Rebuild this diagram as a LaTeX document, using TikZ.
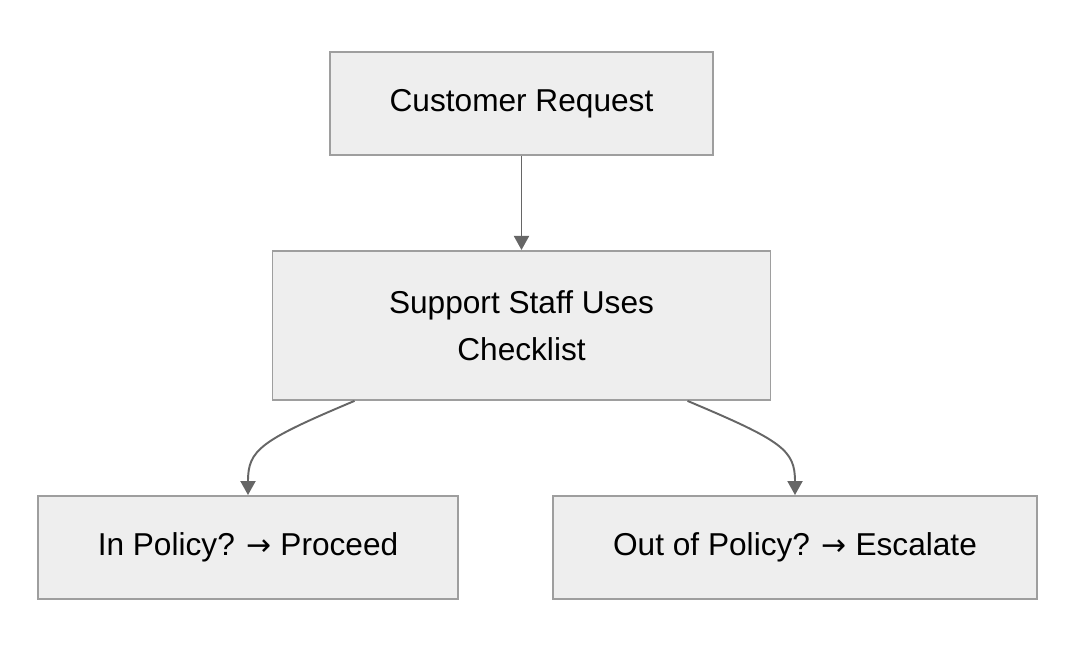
\documentclass[tikz,border=0pt]{standalone}
\usepackage{fontspec}
\setmainfont{Liberation Sans}
\newfontfamily\arrowfont{DejaVu Sans}
\usetikzlibrary{positioning,arrows.meta}

\definecolor{boxfill}{HTML}{EEEEEE}
\definecolor{boxline}{HTML}{9E9E9E}
\definecolor{linkgray}{HTML}{666666}
\newcommand{\goesto}{{\arrowfont\fontsize{17}{17}\selectfont →}}

\begin{document}
\begin{tikzpicture}[
  stepbox/.style={rectangle, draw=boxline, fill=boxfill, line width=1.1pt, align=center, minimum height=2.06cm,
    font=\fontsize{18}{26.6}\selectfont},
  link/.style={draw=linkgray, line width=1.1pt, -{Triangle[width=0.3cm,length=0.28cm]}},
  node distance=1.88cm
]
\useasboundingbox (0,0) rectangle (21.52,-13.04);

\node[stepbox, minimum width=7.66cm] (request) at (10.43,-2.07) {Customer Request};
\node[stepbox, minimum width=9.96cm, minimum height=2.98cm, below=of request] (staff) {Support Staff Uses\\Checklist};
\node[stepbox, minimum width=8.4cm] (inpolicy) at (4.96,-10.95) {In Policy? \goesto{} Proceed};
\node[stepbox, minimum width=9.68cm] (outpolicy) at (15.9,-10.95) {Out of Policy? \goesto{} Escalate};

\draw[link] (request) -- (staff);
\draw[link] ([xshift=-3.34cm]staff.south) .. controls ++(-1.9,-0.8) and ++(0,0.9) .. (inpolicy.north);
\draw[link] ([xshift=3.32cm]staff.south) .. controls ++(1.9,-0.8) and ++(0,0.9) .. (outpolicy.north);
\end{tikzpicture}
\end{document}
